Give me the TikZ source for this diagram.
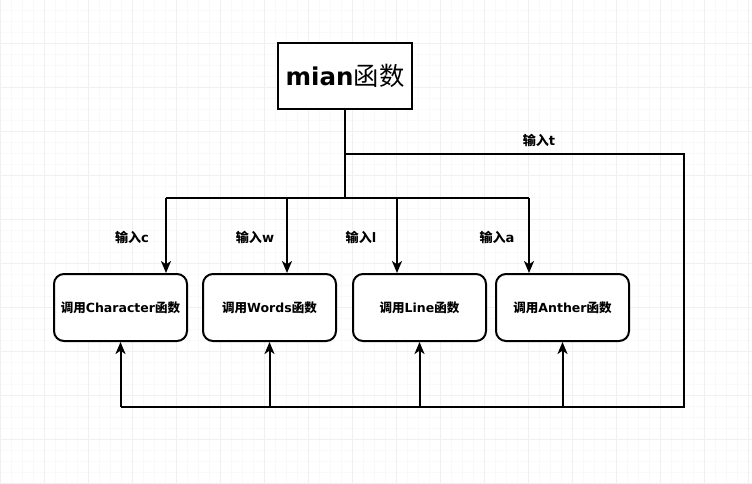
\documentclass[tikz,border=0pt]{standalone}
\usepackage{fontspec}
\setmainfont{DejaVu Sans}
\newfontfamily\cjk{Noto Sans CJK SC}
\usetikzlibrary{positioning, calc, arrows.meta}

\begin{document}
\begin{tikzpicture}
		[x=0.75pt, y=-0.75pt,
		 func/.style = {draw, line width=1.5pt, rectangle, rounded corners=7.5pt, fill=white, minimum width=99.75pt, minimum height=50.25pt, font=\fontsize{9.4}{11}\selectfont\bfseries},
		 mainbox/.style = {draw, line width=1.5pt, rectangle, fill=white, minimum width=100.5pt, minimum height=49.5pt},
		 wire/.style = {line width=1.5pt},
		 arr/.style = {line width=1.5pt, -{Stealth[length=9pt, width=7.5pt, inset=2.5pt]}},
		 lbl/.style = {font=\fontsize{9.8}{11}\selectfont\bfseries}]
		% background grid
		\useasboundingbox (0,0) rectangle (752,483);
		\fill[white] (0,0) rectangle (752,483);
		\foreach \i in {0,...,68} \draw[gray!5, line width=0.6pt] (\i*11,0) -- (\i*11,483);
		\foreach \j in {0,...,44} \draw[gray!5, line width=0.6pt] (0,\j*11-1) -- (752,\j*11-1);
		\foreach \i in {0,...,17} \draw[gray!12, line width=0.6pt] (\i*44,0) -- (\i*44,483);
		\foreach \j in {1,...,11} \draw[gray!12, line width=0.6pt] (0,\j*44-1) -- (752,\j*44-1);

		\node[mainbox] (mian) at (345,76) {{\fontsize{18.4}{20}\selectfont\bfseries mian}{\cjk\fontsize{19}{20}\selectfont 函数}};
		\node[func] (char) at (120.5,307.5) {{\cjk 调用}Character{\cjk 函数}};
		\node[func, right=10.5pt of char] (words) {{\cjk 调用}Words{\cjk 函数}};
		\node[func, right=11.25pt of words] (line) {{\cjk 调用}Line{\cjk 函数}};
		\node[func, right=6pt of line] (anther) {{\cjk 调用}Anther{\cjk 函数}};

		\coordinate (tap) at ($(mian.south)+(0,44)$);
		\coordinate (hub) at ($(mian.south)+(0,88)$);
		\coordinate (ret) at (684,407);
		\coordinate (inC) at ($(char.north)+(45.5,0)$);
		\coordinate (inW) at ($(words.north)+(17.5,0)$);
		\coordinate (inL) at ($(line.north)+(-22.5,0)$);
		\coordinate (inA) at ($(anther.north)+(-33.5,0)$);

		\draw[wire] (mian.south) -- (hub);
		\draw[wire] (inC |- hub) -- (inA |- hub);
		\draw[arr] (inC |- hub) -- (inC);
		\draw[arr] (inW |- hub) -- (inW);
		\draw[arr] (inL |- hub) -- (inL);
		\draw[arr] (inA |- hub) -- (inA);

		\draw[wire] (tap) -| (ret) -- (char.south |- ret);
		\draw[arr] (char.south |- ret) -- (char.south);
		\draw[arr] (words.south |- ret) -- (words.south);
		\draw[arr] (line.south |- ret) -- (line.south);
		\draw[arr] (anther.south |- ret) -- (anther.south);

		\node[lbl] at (132,237) {{\cjk 输入}c};
		\node[lbl] at (255,237) {{\cjk 输入}w};
		\node[lbl] at (361,237) {{\cjk 输入}l};
		\node[lbl] at (497,237) {{\cjk 输入}a};
		\node[lbl] at (539,140) {{\cjk 输入}t};
	\end{tikzpicture}
\end{document}
